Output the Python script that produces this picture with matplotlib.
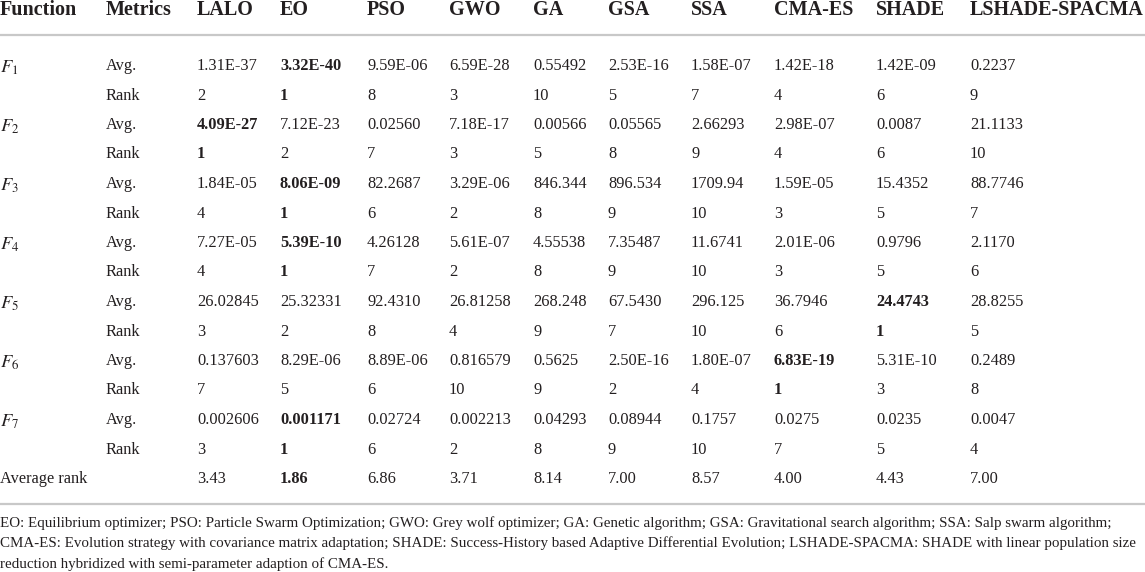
import matplotlib
matplotlib.use("Agg")
import matplotlib.pyplot as plt

plt.rcParams['font.family'] = ['Liberation Serif', 'DejaVu Serif']
plt.rcParams['mathtext.fontset'] = 'stix'

# Table data
headers = ['Function', 'Metrics', 'LALO', 'EO', 'PSO', 'GWO', 'GA', 'GSA',
           'SSA', 'CMA-ES', 'SHADE', 'LSHADE-SPACMA']
functions = ['$F_1$', '$F_2$', '$F_3$', '$F_4$', '$F_5$', '$F_6$', '$F_7$']
avg_values = [
    ['1.31E-37', '3.32E-40', '9.59E-06', '6.59E-28', '0.55492', '2.53E-16', '1.58E-07', '1.42E-18', '1.42E-09', '0.2237'],
    ['4.09E-27', '7.12E-23', '0.02560', '7.18E-17', '0.00566', '0.05565', '2.66293', '2.98E-07', '0.0087', '21.1133'],
    ['1.84E-05', '8.06E-09', '82.2687', '3.29E-06', '846.344', '896.534', '1709.94', '1.59E-05', '15.4352', '88.7746'],
    ['7.27E-05', '5.39E-10', '4.26128', '5.61E-07', '4.55538', '7.35487', '11.6741', '2.01E-06', '0.9796', '2.1170'],
    ['26.02845', '25.32331', '92.4310', '26.81258', '268.248', '67.5430', '296.125', '36.7946', '24.4743', '28.8255'],
    ['0.137603', '8.29E-06', '8.89E-06', '0.816579', '0.5625', '2.50E-16', '1.80E-07', '6.83E-19', '5.31E-10', '0.2489'],
    ['0.002606', '0.001171', '0.02724', '0.002213', '0.04293', '0.08944', '0.1757', '0.0275', '0.0235', '0.0047'],
]
ranks = [
    [2, 1, 8, 3, 10, 5, 7, 4, 6, 9],
    [1, 2, 7, 3, 5, 8, 9, 4, 6, 10],
    [4, 1, 6, 2, 8, 9, 10, 3, 5, 7],
    [4, 1, 7, 2, 8, 9, 10, 3, 5, 6],
    [3, 2, 8, 4, 9, 7, 10, 6, 1, 5],
    [7, 5, 6, 10, 9, 2, 4, 1, 3, 8],
    [3, 1, 6, 2, 8, 9, 10, 7, 5, 4],
]
average_rank = ['3.43', '1.86', '6.86', '3.71', '8.14', '7.00', '8.57', '4.00', '4.43', '7.00']
best_avg_row = [1, 0, 1, 1, 8, 7, 1]
best_avg_rank = 1
footnote = [
    "EO: Equilibrium optimizer; PSO: Particle Swarm Optimization; GWO: Grey wolf optimizer; GA: Genetic algorithm; GSA: Gravitational search algorithm; SSA: Salp swarm algorithm;",
    "CMA-ES: Evolution strategy with covariance matrix adaptation; SHADE: Success-History based Adaptive Differential Evolution; LSHADE-SPACMA: SHADE with linear population size",
    "reduction hybridized with semi-parameter adaption of CMA-ES.",
]

# Layout (pixel coordinates, baselines)
W, H = 1145, 572
col_x = [0, 106, 197, 280, 367, 449, 533, 608, 691, 774, 876, 970]
header_y = 15
first_row_y = 70
row_step = 29.5
fs = 11.8
txt_color = '#231f20'
line_color = '#c8c8c8'

fig = plt.figure(figsize=(W / 100, H / 100), dpi=100)
ax = fig.add_axes([0, 0, 1, 1])
ax.set_xlim(0, W)
ax.set_ylim(H, 0)
ax.axis('off')

for x, h in zip(col_x, headers):
    ax.text(x, header_y, h, fontsize=14.5, fontweight='bold', color=txt_color,
            va='baseline', ha='left')

ax.plot([0, W], [35, 35], color=line_color, lw=1.6, solid_capstyle='butt')

y = first_row_y
for i, fn in enumerate(functions):
    # mathtext sits a little high, nudge it down to the row baseline
    ax.text(col_x[0], y + 3, fn, fontsize=fs + 1.5, color=txt_color, va='baseline', ha='left')
    ax.text(col_x[1], y, 'Avg.', fontsize=fs, color=txt_color, va='baseline', ha='left')
    for j, v in enumerate(avg_values[i]):
        w = 'bold' if j == best_avg_row[i] else 'normal'
        ax.text(col_x[j + 2], y, v, fontsize=fs, color=txt_color, va='baseline',
                ha='left', fontweight=w)
    y += row_step
    ax.text(col_x[1], y, 'Rank', fontsize=fs, color=txt_color, va='baseline', ha='left')
    for j, r in enumerate(ranks[i]):
        w = 'bold' if r == best_avg_rank else 'normal'
        ax.text(col_x[j + 2], y, str(r), fontsize=fs, color=txt_color, va='baseline',
                ha='left', fontweight=w)
    y += row_step

ax.text(col_x[0], y, 'Average rank', fontsize=fs, color=txt_color, va='baseline', ha='left')
best_avg = min(average_rank, key=float)
for j, v in enumerate(average_rank):
    w = 'bold' if v == best_avg else 'normal'
    ax.text(col_x[j + 2], y, v, fontsize=fs, color=txt_color, va='baseline',
            ha='left', fontweight=w)

ax.plot([0, W], [504, 504], color=line_color, lw=1.6, solid_capstyle='butt')

for k, line in enumerate(footnote):
    ax.text(0, 527 + k * 20.5, line, fontsize=10.8, color=txt_color,
            va='baseline', ha='left')

fig.savefig('out.png', dpi=100)
